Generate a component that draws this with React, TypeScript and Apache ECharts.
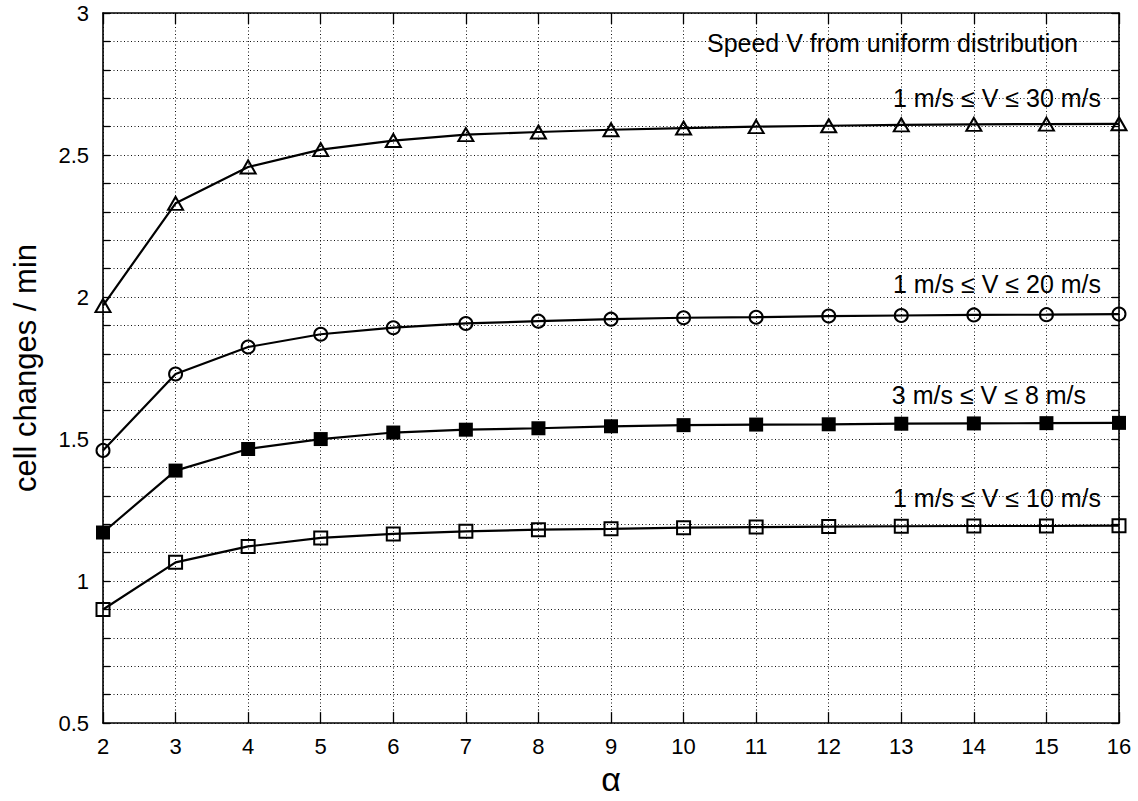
import React, { useEffect, useRef } from "react";
import * as echarts from "echarts";

// α values (x axis)
const alphaValues = [2, 3, 4, 5, 6, 7, 8, 9, 10, 11, 12, 13, 14, 15, 16];

// cell changes / min for each speed range
const speed1to30 = [1.97, 2.33, 2.458, 2.519, 2.551, 2.572, 2.581, 2.589, 2.595, 2.6, 2.603, 2.606, 2.608, 2.609, 2.61];
const speed1to20 = [1.46, 1.729, 1.824, 1.869, 1.892, 1.907, 1.915, 1.922, 1.927, 1.929, 1.933, 1.935, 1.937, 1.938, 1.94];
const speed3to8 = [1.171, 1.389, 1.465, 1.5, 1.523, 1.533, 1.538, 1.545, 1.549, 1.551, 1.552, 1.554, 1.555, 1.556, 1.557];
const speed1to10 = [0.9, 1.066, 1.122, 1.152, 1.166, 1.175, 1.181, 1.184, 1.188, 1.19, 1.192, 1.193, 1.194, 1.194, 1.195];

const seriesNames = [
  "1 m/s ≤ V ≤ 30 m/s",
  "1 m/s ≤ V ≤ 20 m/s",
  "3 m/s ≤ V ≤ 8 m/s",
  "1 m/s ≤ V ≤ 10 m/s",
];
const titleText = "Speed V from uniform distribution";
const xAxisName = "α";
const yAxisName = "cell changes / min";

export default function App() {
  const ref = useRef<HTMLDivElement>(null);

  useEffect(() => {
    if (!ref.current) return;
    const chart = echarts.init(ref.current, null, { renderer: "svg" });
    const font = '"Liberation Sans", Arial, Helvetica, sans-serif';
    const pairs = (vals: number[]) => alphaValues.map((a, i) => [a, vals[i]]);

    const axisLine = { show: true, onZero: false, lineStyle: { color: "#000", width: 1.6 } };
    const grid = { left: 103, top: 13, width: 1016, height: 714 };
    const dotted = { show: true, lineStyle: { color: "#111", width: 1, type: [1, 2.5] } };

    const openStyle = { color: "rgba(0,0,0,0)", borderColor: "#000", borderWidth: 2 };
    const lineStyle = { color: "#000", width: 2.2 };

    const annot = (text: string, x: number, y: number) => ({
      type: "text",
      x,
      y,
      silent: true,
      style: {
        text,
        fill: "#000",
        font: `25px ${font}`,
        fontSize: 25,
        fontFamily: font,
        align: "right",
        verticalAlign: "middle",
        textAlign: "right",
        textVerticalAlign: "middle",
      },
    });

    const option: any = {
      animation: false,
      backgroundColor: "#fff",
      grid,
      xAxis: [
        {
          type: "value",
          min: 2,
          max: 16,
          interval: 1,
          position: "bottom",
          axisLine,
          axisTick: { show: true, inside: true, length: 11, lineStyle: { color: "#000", width: 1.3 } },
          axisLabel: { color: "#000", fontSize: 22, fontFamily: font, margin: 12 },
          splitLine: dotted,
          name: xAxisName,
          nameLocation: "middle",
          nameGap: 38,
          nameTextStyle: { color: "#000", fontSize: 34, fontFamily: font },
        },
        {
          type: "value",
          min: 2,
          max: 16,
          interval: 1,
          position: "top",
          axisLine,
          axisTick: { show: true, inside: true, length: 11, lineStyle: { color: "#000", width: 1.3 } },
          axisLabel: { show: false },
          splitLine: { show: false },
        },
      ],
      yAxis: [
        {
          type: "value",
          min: 0.5,
          max: 3,
          interval: 0.1,
          position: "left",
          axisLine,
          axisTick: { show: true, inside: true, length: 7, lineStyle: { color: "#000", width: 1.3 } },
          axisLabel: {
            color: "#000",
            fontSize: 22,
            fontFamily: font,
            margin: 14,
            formatter: (v: number) => {
              const r = Math.round(v * 10) / 10;
              return Math.abs(r * 2 - Math.round(r * 2)) < 1e-6 ? String(r) : "";
            },
          },
          splitLine: dotted,
          name: yAxisName,
          nameLocation: "middle",
          nameGap: 62,
          nameTextStyle: { color: "#000", fontSize: 31, fontFamily: font },
        },
        {
          type: "value",
          min: 0.5,
          max: 3,
          interval: 0.1,
          position: "right",
          axisLine,
          axisTick: { show: true, inside: true, length: 7, lineStyle: { color: "#000", width: 1.3 } },
          axisLabel: { show: false },
          splitLine: { show: false },
        },
      ],
      series: [
        {
          name: seriesNames[0],
          type: "line",
          data: pairs(speed1to30),
          symbol: "triangle",
          symbolSize: [15, 13],
          itemStyle: openStyle,
          lineStyle,
          z: 3,
        },
        {
          name: seriesNames[1],
          type: "line",
          data: pairs(speed1to20),
          symbol: "circle",
          symbolSize: 13,
          itemStyle: openStyle,
          lineStyle,
          z: 3,
        },
        {
          name: seriesNames[2],
          type: "line",
          data: pairs(speed3to8),
          symbol: "rect",
          symbolSize: 14,
          itemStyle: { color: "#000" },
          lineStyle,
          z: 3,
        },
        {
          name: seriesNames[3],
          type: "line",
          data: pairs(speed1to10),
          symbol: "rect",
          symbolSize: 13,
          itemStyle: openStyle,
          lineStyle,
          z: 3,
        },
      ],
      graphic: [
        annot(titleText, 1078, 43),
        annot(seriesNames[0], 1101, 98),
        annot(seriesNames[1], 1101, 284),
        annot(seriesNames[2], 1086, 395),
        annot(seriesNames[3], 1101, 498),
      ],
    };

    chart.setOption(option);
    return () => chart.dispose();
  }, []);

  return (
    <div
      ref={ref}
      style={{ position: "fixed", left: 0, top: 0, width: 1138, height: 801, background: "#fff" }}
    />
  );
}
